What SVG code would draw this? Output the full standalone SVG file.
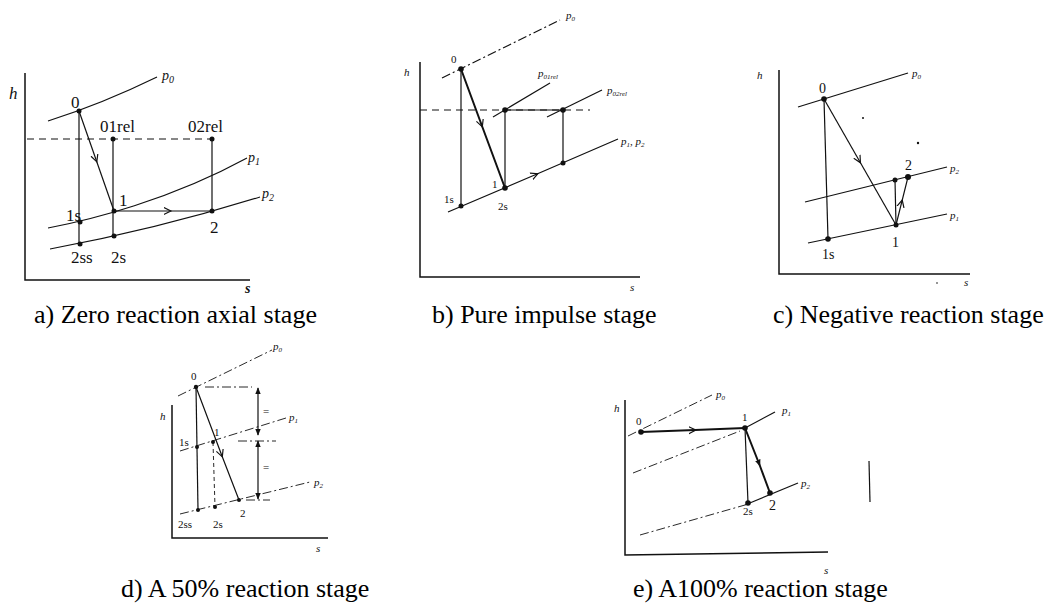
<svg xmlns="http://www.w3.org/2000/svg" width="1059" height="603" viewBox="0 0 1059 603">
<defs>
<marker id="chev" viewBox="0 0 10 10" refX="7" refY="5" markerWidth="9" markerHeight="9" markerUnits="userSpaceOnUse" orient="auto"><path d="M0,1 L8,5 L0,9" fill="none" stroke="#111" stroke-width="1.3"/></marker>
<marker id="tri" viewBox="0 0 10 10" refX="9" refY="5" markerWidth="7" markerHeight="8" markerUnits="userSpaceOnUse" orient="auto"><path d="M0,1 L10,5 L0,9 Z" fill="#111"/></marker>
<marker id="triS" viewBox="0 0 10 10" refX="1" refY="5" markerWidth="7" markerHeight="8" markerUnits="userSpaceOnUse" orient="auto"><path d="M10,1 L0,5 L10,9 Z" fill="#111"/></marker>
</defs>
<style>
.ln{stroke:#111;stroke-width:1.2;fill:none}
.ax{stroke:#111;stroke-width:1.5;fill:none}
.thk{stroke-width:2}
.thin{stroke-width:0.9}
.dash{stroke-dasharray:7 5}
.dd{stroke-dasharray:9 3 2 3}
.pt{fill:#111}
.lb{font-family:"Liberation Serif","Times New Roman",serif;font-size:14px;fill:#111}
.big{font-size:17px}
.sm{font-size:11px}
.it{font-style:italic}
.cap{font-family:"Liberation Serif","Times New Roman",serif;font-size:26px;fill:#000}
</style>

<!-- Panel a -->
<g id="panel-a">
<path class="ax" d="M25,73 V280 H250"/>
<text class="lb it big" x="9" y="99">h</text>
<text class="lb it" x="245" y="293" font-weight="bold" font-size="12">s</text>
<path class="ln" d="M48,121 C70,114 110,100 157,77"/>
<path class="ln" d="M48,228 C90,220 170,200 247,158"/>
<path class="ln" d="M50,249 C110,238 180,222 260,197"/>
<text class="lb it" x="162" y="80" font-size="16">p<tspan font-size="10" dy="3">0</tspan></text>
<text class="lb it" x="248" y="162" font-size="16">p<tspan font-size="10" dy="3">1</tspan></text>
<text class="lb it" x="262" y="198" font-size="16">p<tspan font-size="10" dy="3">2</tspan></text>
<path class="ln dash" d="M27,139 H212"/>
<path class="ln" d="M79,111 V244"/>
<path class="ln" d="M113,139 V236"/>
<path class="ln" d="M212,139 V211"/>
<path class="ln" d="M79,111 L96.5,161 L114,211" marker-mid="url(#chev)"/>
<path class="ln" d="M114,211 L170,211 L212,211" marker-mid="url(#chev)"/>
<circle class="pt" cx="79" cy="111" r="2.5"/>
<circle class="pt" cx="113" cy="139" r="2.5"/>
<circle class="pt" cx="212" cy="139" r="2.5"/>
<circle class="pt" cx="80" cy="222" r="2.5"/>
<circle class="pt" cx="114" cy="211" r="2.5"/>
<circle class="pt" cx="80" cy="244" r="2.5"/>
<circle class="pt" cx="114" cy="236" r="2.5"/>
<circle class="pt" cx="212" cy="211" r="2.5"/>
<text class="lb big" x="71" y="108">0</text>
<text class="lb big" x="100" y="132">01rel</text>
<text class="lb big" x="188" y="132">02rel</text>
<text class="lb big" x="66" y="221">1s</text>
<text class="lb big" x="119" y="206">1</text>
<text class="lb big" x="210" y="233">2</text>
<text class="lb big" x="71" y="263">2ss</text>
<text class="lb big" x="111" y="263">2s</text>
</g>

<!-- Panel b -->
<g id="panel-b">
<path class="ax" d="M420,62 V277 H640"/>
<text class="lb it sm" x="404" y="76">h</text>
<text class="lb it sm" x="630" y="291">s</text>
<path class="ln dd" d="M442,78 L560,20"/>
<path class="ln dash" d="M420,110 H590"/>
<path class="ln" d="M493,117 L550,83"/>
<path class="ln" d="M547,117 L602,90"/>
<path class="ln" d="M448,212 L537,174 L618,139" marker-mid="url(#chev)"/>
<path class="ln" d="M461,69 V206"/>
<path class="ln" d="M505,110 V188"/>
<path class="ln" d="M563,110 V163"/>
<path class="ln thk" d="M461,69 L482,126 L505,188" marker-mid="url(#chev)"/>
<path class="ln" d="M505,110 H563"/>
<circle class="pt" cx="461" cy="69" r="2.8"/>
<circle class="pt" cx="505" cy="110" r="2.8"/>
<circle class="pt" cx="563" cy="110" r="2.8"/>
<circle class="pt" cx="461" cy="206" r="2.5"/>
<circle class="pt" cx="505" cy="188" r="2.8"/>
<circle class="pt" cx="563" cy="163" r="2.5"/>
<text class="lb sm" x="451" y="63">0</text>
<text class="lb it sm" x="566" y="19">p<tspan font-size="7" dy="2">0</tspan></text>
<text class="lb it sm" x="538" y="77">p<tspan font-size="7" dy="2">01rel</tspan></text>
<text class="lb it sm" x="607" y="94">p<tspan font-size="7" dy="2">02rel</tspan></text>
<text class="lb it sm" x="621" y="145">p<tspan font-size="7" dy="2">1</tspan><tspan dy="-2">, p</tspan><tspan font-size="7" dy="2">2</tspan></text>
<text class="lb sm" x="444" y="203">1s</text>
<text class="lb sm" x="492" y="188">1</text>
<text class="lb sm" x="498" y="210">2s</text>
</g>

<!-- Panel c -->
<g id="panel-c">
<path class="ax" d="M779,70 V274 H970"/>
<text class="lb it sm" x="757" y="79">h</text>
<text class="lb it sm" x="964" y="286">s</text>
<path class="ln" d="M798,107 L908,73"/>
<path class="ln" d="M805,202 L947,167"/>
<path class="ln" d="M808,243 L947,214"/>
<path class="ln" d="M824,99 L828,239"/>
<path class="ln" d="M824,99 L860,162 L896,225" marker-mid="url(#chev)"/>
<path class="ln" d="M896,225 L895,180"/>
<path class="ln" d="M896,225 L902,201 L908,177" marker-mid="url(#chev)"/>
<circle class="pt" cx="824" cy="99" r="2.8"/>
<circle class="pt" cx="828" cy="239" r="2.8"/>
<circle class="pt" cx="896" cy="225" r="2.5"/>
<circle class="pt" cx="895" cy="180" r="2.5"/>
<circle class="pt" cx="908" cy="177" r="3"/>
<circle class="pt" cx="863" cy="118" r="1"/>
<circle class="pt" cx="918" cy="143" r="1.2"/>
<circle class="pt" cx="937" cy="283" r="0.8"/>
<text class="lb" x="819" y="93">0</text>
<text class="lb it sm" x="912" y="77">p<tspan font-size="7" dy="2">0</tspan></text>
<text class="lb it sm" x="950" y="172">p<tspan font-size="7" dy="2">2</tspan></text>
<text class="lb it sm" x="950" y="219">p<tspan font-size="7" dy="2">1</tspan></text>
<text class="lb" x="905" y="170">2</text>
<text class="lb" x="892" y="247">1</text>
<text class="lb" x="822" y="259">1s</text>
</g>

<!-- Panel d -->
<g id="panel-d">
<path class="ax" d="M172,405 V538 H328"/>
<text class="lb it sm" x="160" y="420">h</text>
<text class="lb it sm" x="316" y="552">s</text>
<path class="ln thin dd" d="M178,396 L272,350"/>
<path class="ln thin dd" d="M180,451 L286,418"/>
<path class="ln thin dd" d="M180,514 L310,482"/>
<path class="ln thin dd" d="M205,387 H252"/>
<path class="ln thin dd" d="M238,441 H276"/>
<path class="ln thin dd" d="M246,500 H270"/>
<path class="ln" d="M196,387 L198,510"/>
<path class="ln thin" d="M213,442 L215,507" stroke-dasharray="4 3"/>
<path class="ln" d="M196,387 L222,456 L239,500" marker-mid="url(#chev)"/>
<path class="ln" d="M258,388 V435" marker-start="url(#triS)" marker-end="url(#tri)"/>
<path class="ln" d="M258,441 V499" marker-start="url(#triS)" marker-end="url(#tri)"/>
<circle class="pt" cx="196" cy="387" r="2.2"/>
<circle class="pt" cx="213" cy="442" r="2"/>
<circle class="pt" cx="197" cy="447" r="2"/>
<circle class="pt" cx="198" cy="510" r="2"/>
<circle class="pt" cx="215" cy="507" r="2"/>
<circle class="pt" cx="239" cy="500" r="2"/>
<text class="lb sm" x="191" y="380">0</text>
<text class="lb it sm" x="273" y="350">p<tspan font-size="7" dy="2">0</tspan></text>
<text class="lb it sm" x="289" y="421">p<tspan font-size="7" dy="2">1</tspan></text>
<text class="lb it sm" x="314" y="486">p<tspan font-size="7" dy="2">2</tspan></text>
<text class="lb sm" x="214" y="436">1</text>
<text class="lb sm" x="179" y="446">1s</text>
<text class="lb sm" x="263" y="415">=</text>
<text class="lb sm" x="263" y="471">=</text>
<text class="lb sm" x="178" y="528">2ss</text>
<text class="lb sm" x="213" y="528">2s</text>
<text class="lb sm" x="240" y="517">2</text>
</g>

<!-- Panel e -->
<g id="panel-e">
<path class="ax" d="M625,400 V555 L828,552"/>
<text class="lb it sm" x="614" y="412">h</text>
<text class="lb it sm" x="824" y="574">s</text>
<path class="ln thin dd" d="M628,436 L712,395"/>
<path class="ln thin dd" d="M633,473 L740,431"/>
<path class="ln" d="M745,428 L775,412"/>
<path class="ln thin dd" d="M640,535 L745,505"/>
<path class="ln" d="M745,505 L798,483"/>
<path class="ln thk" d="M641,432 L695,430 L745,428" marker-mid="url(#chev)"/>
<path class="ln" d="M745,428 L748,503"/>
<path class="ln thk" d="M745,428 L760,466 L770,493" marker-mid="url(#tri)"/>
<circle class="pt" cx="641" cy="432" r="2.8"/>
<circle class="pt" cx="745" cy="428" r="2.8"/>
<circle class="pt" cx="748" cy="503" r="2.8"/>
<circle class="pt" cx="770" cy="493" r="2.8"/>
<text class="lb sm" x="636" y="425">0</text>
<text class="lb sm" x="742" y="421">1</text>
<text class="lb it sm" x="716" y="398">p<tspan font-size="7" dy="2">0</tspan></text>
<text class="lb it sm" x="782" y="414">p<tspan font-size="7" dy="2">1</tspan></text>
<text class="lb it sm" x="801" y="487">p<tspan font-size="7" dy="2">2</tspan></text>
<text class="lb sm" x="743" y="515">2s</text>
<text class="lb" x="769" y="510">2</text>
<path class="ln" d="M869,461 L870,502"/>
</g>

<!-- Captions -->
<g id="captions">
<text class="cap" x="34" y="323">a) Zero reaction axial stage</text>
<text class="cap" x="432" y="323">b) Pure impulse stage</text>
<text class="cap" x="773" y="323">c) Negative reaction stage</text>
<text class="cap" x="121" y="597">d) A 50% reaction stage</text>
<text class="cap" x="633" y="597">e) A100% reaction stage</text>
</g>
</svg>
